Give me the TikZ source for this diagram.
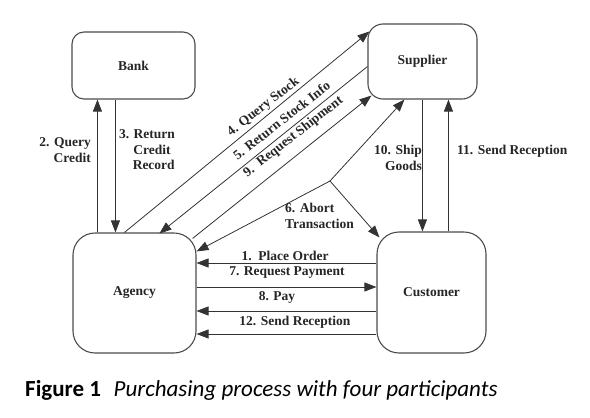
\documentclass[tikz,border=0pt]{standalone}
\usepackage{fontspec}
\setmainfont{Liberation Serif}
\newfontfamily\capfont{Carlito}
\usetikzlibrary{arrows.meta}
\begin{document}
\begin{tikzpicture}[x=1pt,y=-1pt,
  actor/.style={draw=black!70, line width=1.1pt, font=\fontsize{13.5}{15}\selectfont\bfseries, text=black!85, inner sep=0pt},
  msg/.style={draw=black!80, line width=0.8pt, -{Triangle[length=12pt,width=9pt]}},
  lbl/.style={font=\fontsize{13.5}{15.5}\selectfont\bfseries, text=black!85, inner sep=0pt}
]
\useasboundingbox (0,0) rectangle (590,418);
% participants
\node[actor, rounded corners=12pt, minimum width=123pt, minimum height=67pt] (bank) at (133.5,65.5) {Bank};
\node[actor, rounded corners=15pt, minimum width=109pt, minimum height=75pt] (supplier) at (422.5,61.5) {Supplier};
\node[actor, rounded corners=22pt, minimum width=123pt, minimum height=120pt] (agency) at (134.5,293) {Agency};
\node[actor, rounded corners=22pt, minimum width=109pt, minimum height=121pt] (customer) at (431.5,292.5) {Customer};
% bank <-> agency
\draw[msg] ([shift={(25,0)}]agency.north west) -- ([shift={(26,0)}]bank.south west);
\draw[msg] ([shift={(44,0)}]bank.south west) -- ([shift={(43,0)}]agency.north west);
\node[lbl, align=right, anchor=east] (l2) at (91,150) {2. Query\\Credit};
\node[lbl, align=center] (l3) at (147,150) {3. Return\\\ \ \ Credit\\\ \ \ \ Record};
% supplier <-> customer
\draw[msg] ([shift={(55,0)}]supplier.south west) -- ([shift={(46,0)}]customer.north west);
\draw[msg] ([shift={(72,0)}]customer.north west) -- ([shift={(81,0)}]supplier.south west);
\node[lbl, align=right, anchor=east] (l10) at (422,158) {10. Ship\\Goods};
\node[lbl, anchor=west] (l11) at (457,151) {11. Send Reception};
% agency <-> supplier diagonals
\draw[msg] ([shift={(52,0)}]agency.north west) -- ([shift={(2,8)}]supplier.north west);
\draw[msg] ([shift={(0,5)}]supplier.west) -- ([shift={(87,1)}]agency.north west);
\draw[msg] ([shift={(-4,6)}]agency.north east) -- ([shift={(4,-4)}]supplier.south west);
\node[lbl, rotate=38] (l4) at (263.5,107) {4. Query Stock};
\node[lbl, rotate=38] (l5) at (281.5,120.5) {5. Return Stock Info};
\node[lbl, rotate=38] (l9) at (293.5,137) {9.\ \ Request Shipment};
% abort transaction
\coordinate (j) at (330,181);
\draw[msg] (j) -- ([shift={(37,0)}]supplier.south west);
\draw[msg] (j) -- ([shift={(0,19)}]agency.north east);
\draw[msg] (j) -- ([shift={(3,6)}]customer.north west);
\node[lbl, align=left, anchor=west] (l6) at (285,216) {6. Abort\\Transaction};
% horizontal messages
\draw[msg] (customer.west |- 0,263) -- (agency.east |- 0,263);
\draw[msg] (agency.east |- 0,287) -- (customer.west |- 0,287);
\draw[msg] (customer.west |- 0,311) -- (agency.east |- 0,311);
\draw[msg] (customer.west |- 0,334) -- (agency.east |- 0,334);
\node[lbl] (l1) at (285,256) {1.\ \ Place Order};
\node[lbl] (l7) at (287,273) {7. Request Payment};
\node[lbl] (l8) at (277,297) {8. Pay};
\node[lbl] (l12) at (295,322) {12. Send Reception};
% caption
\node[anchor=west, inner sep=0pt, font=\capfont\fontsize{23}{27}\selectfont] (cap) at (25,390) {\textbf{Figure 1}\hspace{0.55em}\textit{Purchasing process with four participants}};
\end{tikzpicture}
\end{document}
